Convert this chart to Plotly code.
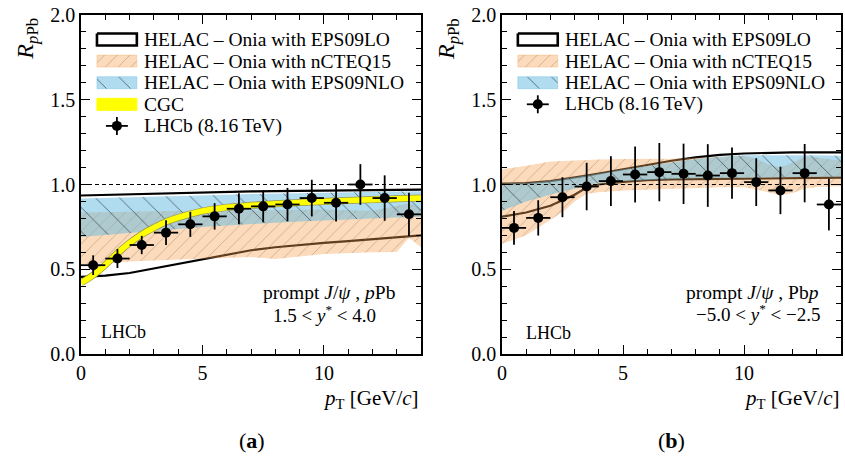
import plotly.graph_objects as go

SERIF = "Liberation Serif"

# ---------------------------------------------------------------- data
# pT bins [GeV/c]: centres and half-widths
pt = [0.5, 1.5, 2.5, 3.5, 4.5, 5.5, 6.5, 7.5, 8.5, 9.5, 10.5, 11.5, 12.5, 13.5]
pt_half = [0.5, 0.5, 0.5, 0.5, 0.5, 0.5, 0.5, 0.5, 0.5, 0.5, 0.5, 0.5, 0.5, 0.5]

# LHCb 8.16 TeV prompt J/psi R_pPb, forward (pPb, 1.5 < y* < 4.0)
lhcb_fwd = [0.524, 0.563, 0.643, 0.716, 0.765, 0.812, 0.857, 0.871, 0.882, 0.920, 0.892, 1.000, 0.920, 0.824]
lhcb_fwd_err = [0.058, 0.056, 0.054, 0.073, 0.074, 0.078, 0.092, 0.094, 0.098, 0.108, 0.110, 0.120, 0.134, 0.128]

# LHCb 8.16 TeV prompt J/psi R_pPb, backward (Pbp, -5.0 < y* < -2.5)
lhcb_bwd = [0.744, 0.803, 0.925, 0.988, 1.020, 1.059, 1.073, 1.063, 1.053, 1.067, 1.014, 0.965, 1.067, 0.882]
lhcb_bwd_err = [0.099, 0.104, 0.118, 0.140, 0.147, 0.165, 0.172, 0.178, 0.185, 0.151, 0.141, 0.140, 0.172, 0.153]

# HELAC-Onia with EPS09LO (forward)
lo_fwd_x = [0, 1, 2, 3, 4, 5, 6, 7, 8, 9, 10, 11, 12, 13, 14]
lo_fwd_hi = [0.935, 0.939, 0.943, 0.947, 0.950, 0.953, 0.956, 0.959, 0.961, 0.963, 0.965, 0.966, 0.968, 0.969, 0.970]
lo_fwd_lo = [0.455, 0.462, 0.478, 0.505, 0.532, 0.556, 0.585, 0.612, 0.630, 0.645, 0.656, 0.666, 0.677, 0.689, 0.700]

# HELAC-Onia with nCTEQ15 (forward)
nc_fwd_x = [0, 1, 2, 3, 4, 5, 6, 7, 8, 9, 10, 11, 12, 13, 13.5, 14]
nc_fwd_hi = [0.835, 0.838, 0.842, 0.845, 0.848, 0.850, 0.850, 0.847, 0.848, 0.850, 0.852, 0.848, 0.845, 0.875, 0.890, 0.860]
nc_fwd_lo = [0.530, 0.535, 0.545, 0.552, 0.558, 0.563, 0.568, 0.572, 0.560, 0.575, 0.590, 0.595, 0.600, 0.602, 0.686, 0.630]

# HELAC-Onia with EPS09NLO (forward)
nlo_fwd_x = [0, 1, 2, 3, 4, 5, 6, 7, 8, 9, 10, 11, 12, 13, 14]
nlo_fwd_hi = [0.918, 0.921, 0.924, 0.928, 0.932, 0.936, 0.940, 0.944, 0.947, 0.950, 0.952, 0.954, 0.956, 0.958, 0.960]
nlo_fwd_lo = [0.690, 0.700, 0.712, 0.725, 0.738, 0.750, 0.760, 0.768, 0.775, 0.782, 0.788, 0.794, 0.800, 0.805, 0.810]

# CGC (forward)
cgc_x = [0, 0.5, 1, 1.5, 2, 2.5, 3, 3.5, 4, 5, 6, 7, 8, 9, 10, 11, 12, 13, 14]
cgc_y = [0.420, 0.465, 0.525, 0.595, 0.655, 0.705, 0.745, 0.780, 0.805, 0.843, 0.865, 0.877, 0.886, 0.894, 0.900, 0.906, 0.911, 0.916, 0.920]

# HELAC-Onia with EPS09LO (backward)
lo_bwd_x = [0, 1, 2, 3, 3.5, 4, 5, 6, 7, 8, 9, 10, 11, 12, 13, 14]
lo_bwd_hi = [1.005, 1.008, 1.020, 1.040, 1.052, 1.065, 1.090, 1.115, 1.140, 1.160, 1.175, 1.183, 1.188, 1.190, 1.190, 1.190]
lo_bwd_lo = [0.810, 0.835, 0.875, 0.940, 0.982, 1.000, 1.015, 1.025, 1.030, 1.032, 1.034, 1.036, 1.037, 1.038, 1.039, 1.040]

# HELAC-Onia with nCTEQ15 (backward)
nc_bwd_x = [0, 1, 2, 2.6, 3, 3.5, 4, 5, 6, 7, 8, 9, 10, 10.5, 11, 11.5, 12, 12.5, 13, 14]
nc_bwd_hi = [1.090, 1.110, 1.135, 1.140, 1.143, 1.146, 1.148, 1.150, 1.151, 1.152, 1.158, 1.164, 1.170, 1.150, 1.120, 1.100, 1.130, 1.165, 1.160, 1.140]
nc_bwd_lo = [0.650, 0.700, 0.790, 0.846, 0.900, 0.945, 0.955, 0.965, 0.970, 0.975, 0.980, 0.984, 0.984, 0.970, 0.955, 0.935, 0.950, 0.975, 0.985, 0.990]

# HELAC-Onia with EPS09NLO (backward)
nlo_bwd_x = [0, 1, 2, 3, 3.5, 4, 5, 6, 7, 8, 9, 10, 11, 12, 13, 14]
nlo_bwd_hi = [1.005, 1.008, 1.020, 1.040, 1.052, 1.063, 1.088, 1.110, 1.132, 1.150, 1.163, 1.172, 1.172, 1.174, 1.172, 1.170]
nlo_bwd_lo = [0.845, 0.900, 0.940, 0.975, 0.995, 1.008, 1.020, 1.028, 1.033, 1.037, 1.040, 1.042, 1.043, 1.044, 1.045, 1.045]

legend_fwd = ["HELAC \u2013 Onia with EPS09LO", "HELAC \u2013 Onia with nCTEQ15",
              "HELAC \u2013 Onia with EPS09NLO", "CGC", "LHCb (8.16\u2009TeV)"]
legend_bwd = ["HELAC \u2013 Onia with EPS09LO", "HELAC \u2013 Onia with nCTEQ15",
              "HELAC \u2013 Onia with EPS09NLO", "LHCb (8.16\u2009TeV)"]

X_RANGE = [0, 14]
Y_RANGE = [0, 2]

# ---------------------------------------------------------------- geometry
W, H = 845, 457
M_L, M_R, M_T, M_B = 81, 2, 15, 103
PW, PH = W - M_L - M_R, H - M_T - M_B


def paper_x(px):
    return (px - M_L) / PW


def paper_y(py):
    return (H - M_B - py) / PH


DOM_A = [0.0, paper_x(422)]
DOM_B = [paper_x(503), 1.0]

# ---------------------------------------------------------------- styles
ORANGE_PAT = dict(shape="/", size=9, solidity=0.1, fgcolor="rgb(150,105,70)", fgopacity=0.42,
                  bgcolor="rgba(245,160,80,0.38)", fillmode="replace")
BLUE_PAT = dict(shape="\\", size=17, solidity=0.05, fgcolor="rgb(40,50,60)", fgopacity=0.75,
                bgcolor="rgba(100,185,225,0.5)", fillmode="replace")

fig = go.Figure()


def band(x, lo, hi, pattern, xa, ya):
    fig.add_trace(go.Scatter(
        x=list(x) + list(x)[::-1], y=list(hi) + list(lo)[::-1],
        fill="toself", fillcolor="rgba(0,0,0,0)", fillpattern=pattern,
        mode="lines", line=dict(width=0), xaxis=xa, yaxis=ya,
        hoverinfo="skip", showlegend=False))


def edge_lines(x, lo, hi, xa, ya):
    for ys in (hi, lo):
        fig.add_trace(go.Scatter(x=x, y=ys, mode="lines", line=dict(color="black", width=2.2),
                                 xaxis=xa, yaxis=ya, hoverinfo="skip", showlegend=False))


def unity(xa, ya):
    fig.add_trace(go.Scatter(x=X_RANGE, y=[1, 1], mode="lines",
                             line=dict(color="black", width=1.1, dash="4px,3px"),
                             xaxis=xa, yaxis=ya, hoverinfo="skip", showlegend=False))


def points(y, err, xa, ya):
    fig.add_trace(go.Scatter(
        x=pt, y=y, mode="markers", marker=dict(color="black", size=10),
        error_x=dict(type="data", array=pt_half, color="black", thickness=1.8, width=0),
        error_y=dict(type="data", array=err, color="black", thickness=1.8, width=0),
        xaxis=xa, yaxis=ya, showlegend=False))


# panel (a): forward
edge_lines(lo_fwd_x, lo_fwd_lo, lo_fwd_hi, "x", "y")
band(nc_fwd_x, nc_fwd_lo, nc_fwd_hi, ORANGE_PAT, "x", "y")
band(nlo_fwd_x, nlo_fwd_lo, nlo_fwd_hi, BLUE_PAT, "x", "y")
unity("x", "y")
fig.add_trace(go.Scatter(x=cgc_x, y=cgc_y, mode="lines", line=dict(color="rgb(150,150,80)", width=7, shape="spline"),
                         xaxis="x", yaxis="y", hoverinfo="skip", showlegend=False))
fig.add_trace(go.Scatter(x=cgc_x, y=cgc_y, mode="lines", line=dict(color="#ffff00", width=5.6, shape="spline"),
                         xaxis="x", yaxis="y", hoverinfo="skip", showlegend=False))
points(lhcb_fwd, lhcb_fwd_err, "x", "y")

# panel (b): backward
edge_lines(lo_bwd_x, lo_bwd_lo, lo_bwd_hi, "x2", "y2")
band(nc_bwd_x, nc_bwd_lo, nc_bwd_hi, ORANGE_PAT, "x2", "y2")
band(nlo_bwd_x, nlo_bwd_lo, nlo_bwd_hi, BLUE_PAT, "x2", "y2")
unity("x2", "y2")
points(lhcb_bwd, lhcb_bwd_err, "x2", "y2")

# ---------------------------------------------------------------- legends
# drawn on an overlay axis pair measured in screen pixels
LEG_ROW0, LEG_DY = 39.5, 21.6
SW_W, SW_H = 40, 12
LEG_FONT = dict(family=SERIF, size=19.5, color="black")
annotations = []


def swatch(x0, yc, kind):
    xs = [x0, x0 + SW_W, x0 + SW_W, x0, x0]
    ys = [yc - SW_H / 2, yc - SW_H / 2, yc + SW_H / 2, yc + SW_H / 2, yc - SW_H / 2]
    common = dict(xaxis="x3", yaxis="y3", hoverinfo="skip", showlegend=False)
    if kind == "lo":
        fig.add_trace(go.Scatter(x=xs, y=ys, fill="toself", fillcolor="white", mode="lines",
                                 line=dict(color="black", width=2.6), **common))
    elif kind == "nc":
        fig.add_trace(go.Scatter(x=xs, y=ys, fill="toself", fillcolor="rgba(0,0,0,0)", fillpattern=ORANGE_PAT,
                                 mode="lines", line=dict(color="rgba(245,160,80,0.3)", width=1), **common))
    elif kind == "nlo":
        fig.add_trace(go.Scatter(x=xs, y=ys, fill="toself", fillcolor="rgba(0,0,0,0)", fillpattern=BLUE_PAT,
                                 mode="lines", line=dict(color="rgba(100,185,225,0.4)", width=1), **common))
    elif kind == "cgc":
        fig.add_trace(go.Scatter(x=xs, y=ys, fill="toself", fillcolor="#ffff00", mode="lines",
                                 line=dict(color="#ffff00", width=1), **common))
    else:
        fig.add_trace(go.Scatter(x=[x0 + SW_W / 2], y=[yc], mode="markers", marker=dict(color="black", size=10),
                                 error_x=dict(type="constant", value=11, color="black", thickness=1.8, width=0),
                                 error_y=dict(type="constant", value=9, color="black", thickness=1.8, width=0),
                                 **common))


def legend(x0, labels, kinds):
    for i, (lab, kind) in enumerate(zip(labels, kinds)):
        yc = LEG_ROW0 + i * LEG_DY
        swatch(x0, yc, kind)
        annotations.append(dict(text=lab, x=x0 + SW_W + 5, y=yc, xref="x3", yref="y3",
                                xanchor="left", yanchor="middle", showarrow=False, font=LEG_FONT))


legend(97, legend_fwd, ["lo", "nc", "nlo", "cgc", "pts"])
legend(519, legend_bwd, ["lo", "nc", "nlo", "pts"])


# ---------------------------------------------------------------- text
def ann(text, px, py, size, xanchor="center", angle=None):
    a = dict(text=text, x=paper_x(px), y=paper_y(py), xref="paper", yref="paper",
             xanchor=xanchor, yanchor="middle", showarrow=False,
             font=dict(family=SERIF, size=size, color="black"))
    if angle is not None:
        a["textangle"] = angle
    annotations.append(a)


ytitle = "<i>R</i><sub><i>p</i>Pb</sub>"
xtitle = "<i>p</i><sub>T</sub> [GeV/<i>c</i>]"
ann(ytitle, 26.5, 39, 24, angle=-90)
ann(ytitle, 449, 39, 24, angle=-90)
ann(xtitle, 422, 399, 21, xanchor="right")
ann(xtitle, 844, 399, 21, xanchor="right")
ann("(<b>a</b>)", 252, 440, 22)
ann("(<b>b</b>)", 673, 440, 22)

ann("prompt <i>J</i>/<i>\u03c8</i> , <i>p</i>Pb", 330, 292, 19.5)
ann("1.5 &lt; <i>y</i><sup>*</sup> &lt; 4.0", 325, 314, 19)
ann("LHCb", 124, 332, 18)
ann("prompt <i>J</i>/<i>\u03c8</i> , Pb<i>p</i>", 754, 292, 19.5)
ann("\u22125.0 &lt; <i>y</i><sup>*</sup> &lt; \u22122.5", 760, 313, 19)
ann("LHCb", 550, 333, 18)

# ---------------------------------------------------------------- axes
axis_common = dict(showline=True, linecolor="black", linewidth=1.5, mirror="allticks",
                   ticks="inside", ticklen=9, tickwidth=1.3, tickcolor="black",
                   showgrid=False, zeroline=False,
                   tickfont=dict(family=SERIF, size=20, color="black"))
xaxis_common = dict(axis_common, range=X_RANGE, tick0=0, dtick=5,
                    minor=dict(ticks="inside", ticklen=5, dtick=1, tickwidth=1.1, tickcolor="black", showgrid=False))
yaxis_common = dict(axis_common, range=Y_RANGE, tick0=0, dtick=0.5, tickformat=".1f",
                    minor=dict(ticks="inside", ticklen=5, dtick=0.1, tickwidth=1.1, tickcolor="black", showgrid=False))

fig.update_layout(
    width=W, height=H,
    margin=dict(l=M_L, r=M_R, t=M_T, b=M_B, pad=0),
    paper_bgcolor="white", plot_bgcolor="rgba(0,0,0,0)",
    font=dict(family=SERIF, color="black"),
    showlegend=False,
    xaxis=dict(xaxis_common, domain=DOM_A, anchor="y"),
    yaxis=dict(yaxis_common, domain=[0, 1], anchor="x"),
    xaxis2=dict(xaxis_common, domain=DOM_B, anchor="y2"),
    yaxis2=dict(yaxis_common, domain=[0, 1], anchor="x2"),
    xaxis3=dict(domain=[0, 1], range=[M_L, W - M_R], visible=False, anchor="y3", fixedrange=True),
    yaxis3=dict(domain=[0, 1], range=[H - M_B, M_T], visible=False, anchor="x3", fixedrange=True),
    annotations=annotations,
)

fig.write_html("out.html")
